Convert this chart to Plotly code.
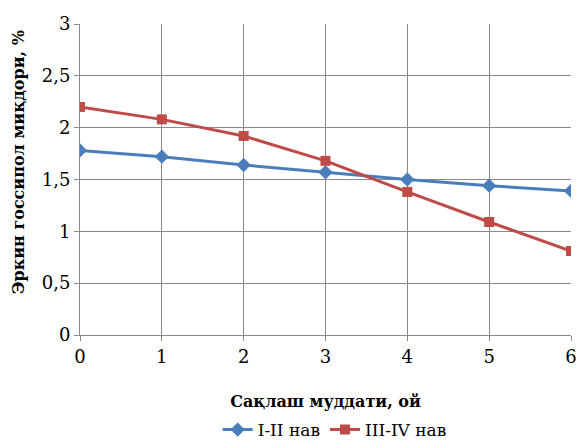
import plotly.graph_objects as go

months = [0, 1, 2, 3, 4, 5, 6]
grade_1_2 = [1.78, 1.72, 1.64, 1.57, 1.50, 1.44, 1.39]
grade_3_4 = [2.20, 2.08, 1.92, 1.68, 1.38, 1.09, 0.81]

font_family = "DejaVu Serif"

fig = go.Figure()
fig.add_trace(go.Scatter(
    x=months, y=grade_1_2, name="I-II нав", mode="lines+markers",
    line=dict(color="#4A7EBB", width=3),
    marker=dict(symbol="diamond", size=11, color="#4A7EBB"),
))
fig.add_trace(go.Scatter(
    x=months, y=grade_3_4, name="III-IV нав", mode="lines+markers",
    line=dict(color="#BE4B48", width=3),
    marker=dict(symbol="square", size=10, color="#BE4B48"),
))

fig.update_layout(
    width=579, height=448,
    margin=dict(l=80, r=8, t=24, b=113),
    paper_bgcolor="white", plot_bgcolor="white",
    separators=", ",
    font=dict(family=font_family, size=18, color="black"),
    legend=dict(orientation="h", x=0.578, xref="container", y=-0.045, yref="container",
                xanchor="center", yanchor="bottom",
                font=dict(family=font_family, size=17)),
    xaxis=dict(
        range=[0, 6], tickvals=months, showgrid=True, gridcolor="#8a8a8a", gridwidth=1,
        showline=True, linecolor="#8a8a8a", ticks="outside", ticklen=5, tickcolor="#8a8a8a",
        tickfont=dict(family=font_family, size=18), zeroline=False, automargin=False,
        title=dict(text="<b>Сақлаш муддати, ой</b>", font=dict(family=font_family, size=16),
                   standoff=30),
    ),
    yaxis=dict(
        range=[0, 3], dtick=0.5, showgrid=True, gridcolor="#8a8a8a", gridwidth=1,
        showline=True, linecolor="#8a8a8a", ticks="outside", ticklen=5, tickcolor="#8a8a8a",
        tickfont=dict(family=font_family, size=18), zeroline=False, automargin=False,
    ),
    annotations=[dict(
        text="<b>Эркин госсипол миқдори, %</b>", textangle=-90,
        xref="paper", yref="paper", x=-0.126, y=0.556,
        xanchor="center", yanchor="middle", showarrow=False,
        font=dict(family=font_family, size=16),
    )],
)

fig.write_html("out.html")
